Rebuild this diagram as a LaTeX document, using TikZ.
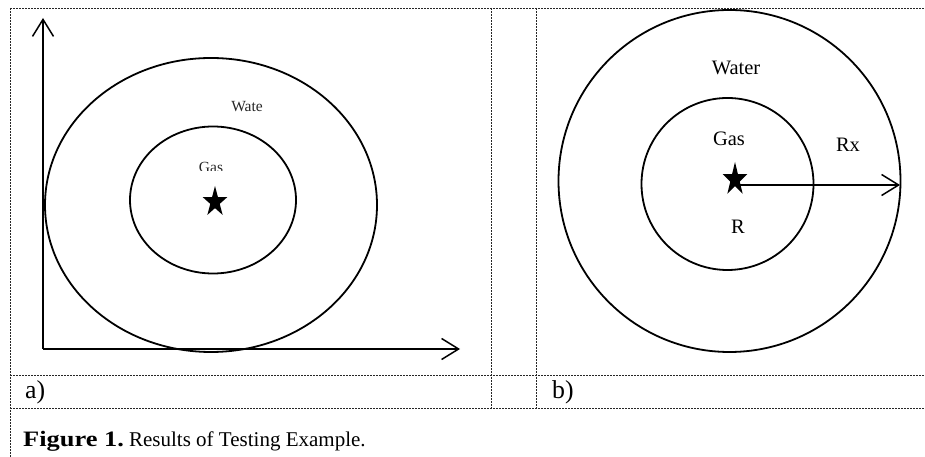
\documentclass[tikz,border=0pt]{standalone}
\usepackage{fontspec}
\setmainfont{Liberation Serif}
\usepackage{tikz}
\usetikzlibrary{arrows.meta}

% filled five point star, stretched: centre, x radius, y radius
\newcommand{\tallstar}[3]{%
    \fill[shift={(#1)}] (90:#2 and #3)
        \foreach \k in {1,...,9} {
            -- ({90+36*\k}:{#2*(1-0.618*mod(\k,2))} and {#3*(1-0.618*mod(\k,2))})
        } -- cycle;}

\tikzset{
    grid/.style={draw=black!85, line width=0.8pt, dash pattern=on 2pt off 1pt},
    ring/.style={draw=black, line width=1.8pt},
    axis/.style={draw=black, line width=1.7pt, -{Straight Barb[length=17pt, width=21pt, line width=1.5pt]}},
    bigtext/.style={font=\fontsize{20.5}{24}\selectfont, inner sep=0pt},
    smalltext/.style={font=\fontsize{15.5}{18}\selectfont, inner sep=0pt, text=black!85},
    celltext/.style={font=\fontsize{25.8}{30}\selectfont, inner sep=0pt, anchor=base west}
}

\begin{document}
\begin{tikzpicture}[x=1pt, y=1pt]
    \useasboundingbox (0, 0) rectangle (925, 457);

    % table rules
    \draw[grid] (10, 449) -- (925, 449);
    \draw[grid] (10, 82) -- (925, 82);
    \draw[grid] (10, 49) -- (925, 49);
    \draw[grid] (10, 449) -- (10, 0);
    \foreach \x in {491, 536} {
        \draw[grid] (\x, 449) -- (\x, 49);
    }

    % a) axes and ellipses
    \coordinate (origin) at (43, 108);
    \coordinate (ytop) at (43, 439);
    \coordinate (xend) at (460, 108);
    \draw[axis] (origin) -- (ytop);
    \draw[axis] (origin) -- (xend);
    \draw[ring] (211, 252) ellipse (166 and 147);
    \draw[ring] (213, 257) ellipse (83 and 73.5);
    \coordinate (starA) at (215, 255);
    \tallstar{starA}{13}{16}
    \node[smalltext] (wateA) at (247, 350) {Wate};
    \begin{scope}
        \clip (180, 286) rectangle (240, 310);
        \node[smalltext, anchor=base] (gasA) at (211, 284) {Gas};
    \end{scope}

    % b) circles and radius
    \draw[ring] (729.5, 276) circle (171);
    \draw[ring] (727.5, 273) circle (86);
    \coordinate (starB) at (735, 277.5);
    \tallstar{starB}{13}{17.5}
    \coordinate (rstart) at (735, 272);
    \coordinate (rend) at (900, 272);
    \draw[axis] (rstart) -- (rend);
    \node[bigtext] (waterB) at (736, 389) {Water};
    \node[bigtext] (gasB) at (729, 318) {Gas};
    \node[bigtext] (rx) at (848, 312) {Rx};
    \node[bigtext] (r) at (738, 230) {R};

    % row labels and caption
    \node[celltext] (labA) at (25, 58.6) {a)};
    \node[celltext] (labB) at (552, 58.6) {b)};
    \node[bigtext, anchor=base west] (caption) at (23, 10)
        {\scalebox{1.2}[1]{\fontsize{22}{26}\selectfont\bfseries Figure 1.}\fontsize{21}{25}\selectfont{} Results of Testing Example.};
\end{tikzpicture}
\end{document}
